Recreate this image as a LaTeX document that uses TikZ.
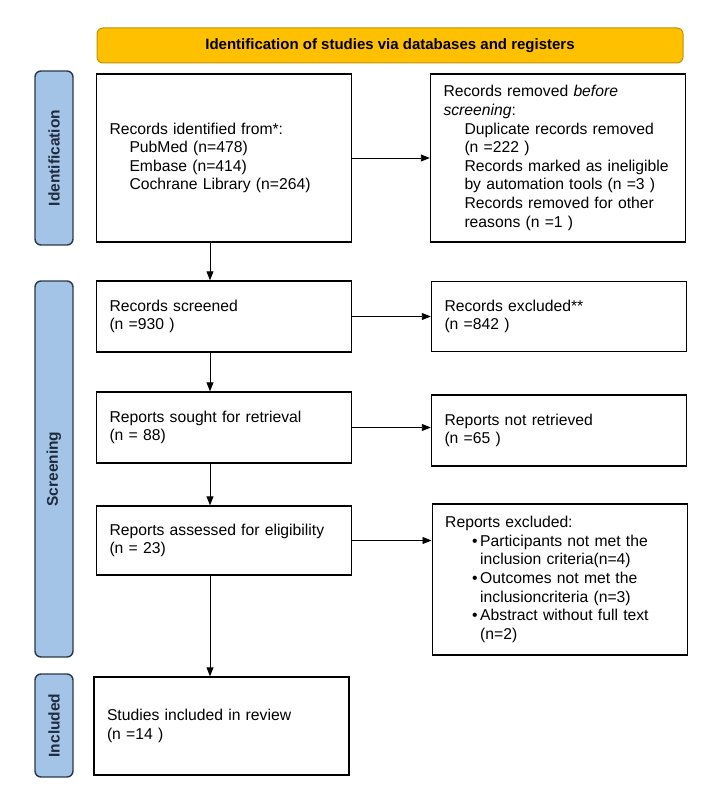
\documentclass[tikz,border=0pt]{standalone}
\usepackage{fontspec}
\setmainfont{Liberation Sans}
\usetikzlibrary{positioning,arrows.meta}

\definecolor{bannerfill}{HTML}{FFC000}
\definecolor{bannerdraw}{HTML}{BF9000}
\definecolor{phasefill}{HTML}{A3C4E7}
\definecolor{phasedraw}{HTML}{2B3848}
\definecolor{phasetext}{HTML}{1F2A3C}

\begin{document}
\begin{tikzpicture}[
    x=1pt, y=-1pt,
    box/.style={rectangle, draw, line width=1.4pt, align=left, text width=229pt,
      inner xsep=13pt, minimum width=255pt, font=\fontsize{15.7}{18.6}\selectfont, fill=white},
    phase/.style={rectangle, draw=phasedraw, line width=1.4pt, rounded corners=6pt, fill=phasefill,
      rotate=90, minimum height=38pt, text=phasetext, font=\fontsize{15.5}{18}\selectfont\bfseries},
    banner/.style={rectangle, draw=bannerdraw, line width=1pt, rounded corners=6pt, fill=bannerfill,
      minimum width=586pt, minimum height=35pt, font=\fontsize{15}{18}\selectfont\bfseries},
    flow/.style={-{Triangle[length=9pt, width=7pt]}, line width=0.9pt}
  ]
    \useasboundingbox (0,0) rectangle (725,791);

    % header and phase bars
    \node[banner] (head) at (390,45.5) {Identification of studies via databases and registers};
    \node[phase, minimum width=174pt] (phaseId) at (54,158) {Identification};
    \node[phase, minimum width=376pt] (phaseScr) at (54,469) {Screening};
    \node[phase, minimum width=103pt] (phaseInc) at (54,725.5) {Included};

    % main column
    \node[box, minimum height=168pt] (records) at (224,158) {
      Records identified from*:\\
      \hspace*{20pt}PubMed (n=478)\\
      \hspace*{20pt}Embase (n=414)\\
      \hspace*{20pt}Cochrane Library (n=264)
    };

    \node[box, minimum height=71pt, below=37.6pt of records] (screened) {
      Records screened\\
      (n =930 )
    };

    \node[box, minimum height=71pt, below=38.6pt of screened] (sought) {
      Reports sought for retrieval\\
      (n = 88)
    };

    \node[box, minimum height=69pt, below=41.6pt of sought] (assessed) {
      Reports assessed for eligibility\\
      (n = 23)
    };

    \node[box, minimum height=98pt, below=100.6pt of assessed, xshift=-2.5pt] (included) {
      Studies included in review\\
      (n =14 )
    };

    % side column
    \node[box, minimum height=168pt, right=77.6pt of records] (removed) {
      Records removed \textit{before}\\
      \textit{screening}:\\
      \hspace*{21pt}Duplicate records removed\\
      \hspace*{21pt}(n =222 )\\
      \hspace*{21pt}Records marked as ineligible\\
      \hspace*{21pt}by automation tools (n =3 )\\
      \hspace*{21pt}Records removed for other\\
      \hspace*{21pt}reasons (n =1 )
    };

    \node[box, minimum height=70pt, right=78.6pt of screened] (excluded) {
      Records excluded**\\
      (n =842 )
    };

    \node[box, minimum height=71pt, right=78.6pt of sought, yshift=-3pt] (notRetrieved) {
      Reports not retrieved\\
      (n =65 )
    };

    \node[box, minimum height=151pt, right=79.3pt of assessed.north east, anchor=north west, yshift=2pt] (repExcluded) {
      Reports excluded:\\
      \hspace*{27pt}\makebox[8pt][l]{\textbullet}Participants not met the\\
      \hspace*{35pt}inclusion criteria(n=4)\\
      \hspace*{27pt}\makebox[8pt][l]{\textbullet}Outcomes not met the\\
      \hspace*{35pt}inclusioncriteria (n=3)\\
      \hspace*{27pt}\makebox[8pt][l]{\textbullet}Abstract without full text\\
      \hspace*{35pt}(n=2)
    };

    % arrows
    \coordinate (spine) at (210,0);
    \draw[flow] (records.south -| spine) -- (screened.north -| spine);
    \draw[flow] (screened.south -| spine) -- (sought.north -| spine);
    \draw[flow] (sought.south -| spine) -- (assessed.north -| spine);
    \draw[flow] (assessed.south -| spine) -- (included.north -| spine);

    \draw[flow] (records.east) -- (removed.west);
    \draw[flow] (screened.east) -- (screened.east -| excluded.west);
    \draw[flow] (sought.east) -- (sought.east -| notRetrieved.west);
    \draw[flow] (assessed.east) -- (assessed.east -| repExcluded.west);
  \end{tikzpicture}
\end{document}
